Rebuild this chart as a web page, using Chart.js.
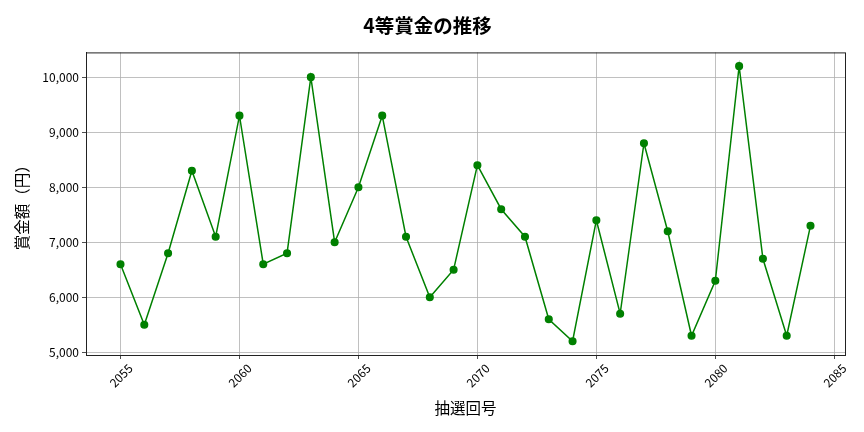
<!DOCTYPE html>
<html>
<head>
<meta charset="utf-8">
<script src="https://cdn.jsdelivr.net/npm/chart.js@4.4.1/dist/chart.umd.min.js"></script>
<style>
  html, body { margin: 0; padding: 0; background: #fff; }
  #wrap { width: 864px; height: 432px; }
</style>
</head>
<body>
<div id="wrap"><canvas id="prizeChart" width="864" height="432"></canvas></div>
<script>
// 抽選回号と4等賞金（円）
const drawNumbers = [2055, 2056, 2057, 2058, 2059, 2060, 2061, 2062, 2063, 2064,
                     2065, 2066, 2067, 2068, 2069, 2070, 2071, 2072, 2073, 2074,
                     2075, 2076, 2077, 2078, 2079, 2080, 2081, 2082, 2083, 2084];
const prizeAmounts = [6600, 5500, 6800, 8300, 7100, 9300, 6600, 6800, 10000, 7000,
                      8000, 9300, 7100, 6000, 6500, 8400, 7600, 7100, 5600, 5200,
                      7400, 5700, 8800, 7200, 5300, 6300, 10200, 6700, 5300, 7300];
const xTickValues = [2055, 2060, 2065, 2070, 2075, 2080, 2085];
const yTickValues = [5000, 6000, 7000, 8000, 9000, 10000];

const fontFamily = '"Noto Sans CJK JP", "Noto Sans", sans-serif';

// matplotlib風の枠線
const frameBox = {
    id: 'frameBox',
    afterDraw(chart) {
        const { ctx, chartArea: a } = chart;
        ctx.save();
        ctx.strokeStyle = '#222';
        ctx.lineWidth = 1;
        ctx.strokeRect(a.left + 0.5, a.top + 0.5, a.right - a.left, a.bottom - a.top);
        ctx.restore();
    }
};

const xPad = (drawNumbers[drawNumbers.length - 1] - drawNumbers[0]) * 0.05;
const yMinData = Math.min(...prizeAmounts), yMaxData = Math.max(...prizeAmounts);
const yPad = (yMaxData - yMinData) * 0.05;

new Chart(document.getElementById('prizeChart').getContext('2d'), {
    type: 'line',
    data: {
        datasets: [{
            label: '4等賞金',
            data: drawNumbers.map((n, i) => ({ x: n, y: prizeAmounts[i] })),
            borderColor: '#008000',
            backgroundColor: '#008000',
            borderWidth: 1.5,
            pointRadius: 3.3,
            pointHoverRadius: 3.3,
            tension: 0
        }]
    },
    options: {
        responsive: false,
        animation: false,
        layout: { padding: { left: 10, right: 19, top: 0, bottom: 4 } },
        plugins: {
            legend: { display: false },
            tooltip: { enabled: false },
            title: {
                display: true,
                text: '4等賞金の推移',
                color: '#000',
                font: { family: fontFamily, size: 19.5, weight: 'bold' },
                padding: { top: 14, bottom: 15 }
            }
        },
        scales: {
            x: {
                type: 'linear',
                min: drawNumbers[0] - xPad,
                max: drawNumbers[drawNumbers.length - 1] + xPad,
                afterBuildTicks: axis => { axis.ticks = xTickValues.map(v => ({ value: v })); },
                afterFit: axis => { axis.height = 432 - 355 - 4; },
                ticks: {
                    color: '#000',
                    font: { family: fontFamily, size: 12 },
                    minRotation: 45,
                    maxRotation: 45,
                    labelOffset: 10,
                    padding: 2,
                    callback: v => String(v)
                },
                grid: { color: '#b0b0b0', lineWidth: 0.8, tickLength: 4, tickColor: '#222' },
                border: { color: '#222' },
                title: {
                    display: true,
                    text: '抽選回号',
                    color: '#000',
                    font: { family: fontFamily, size: 15.5 },
                    padding: { top: 4, bottom: 11 }
                }
            },
            y: {
                type: 'linear',
                min: yMinData - yPad,
                max: yMaxData + yPad,
                afterBuildTicks: axis => { axis.ticks = yTickValues.map(v => ({ value: v })); },
                afterFit: axis => { axis.width = 86 - 10; },
                ticks: {
                    color: '#000',
                    font: { family: fontFamily, size: 12 },
                    callback: v => v.toLocaleString('en-US')
                },
                grid: { color: '#b0b0b0', lineWidth: 0.8, tickLength: 4, tickColor: '#222' },
                border: { color: '#222' },
                title: {
                    display: true,
                    text: '賞金額（円）',
                    color: '#000',
                    font: { family: fontFamily, size: 15.5 },
                    padding: { top: 3, bottom: 3 }
                }
            }
        }
    },
    plugins: [frameBox]
});
</script>
</body>
</html>
